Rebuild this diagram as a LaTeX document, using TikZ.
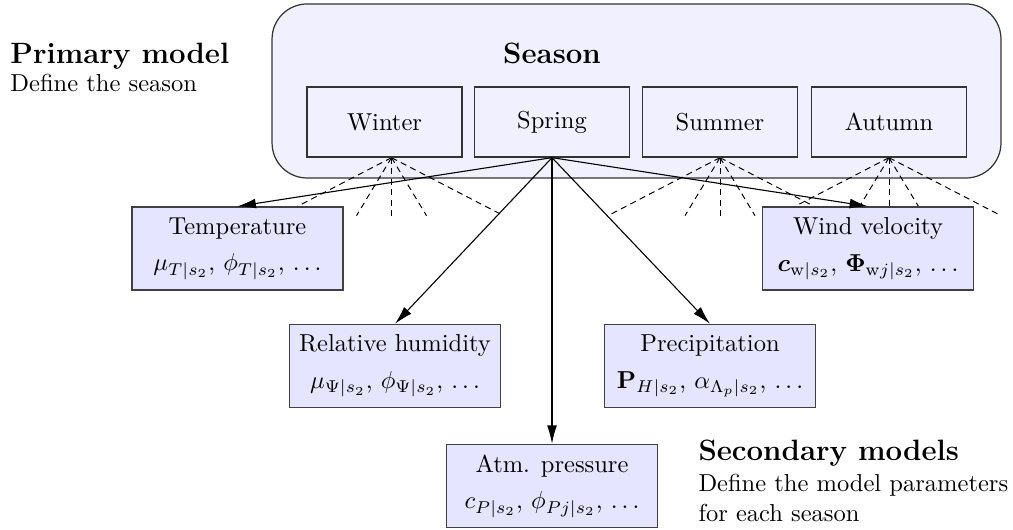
\documentclass[tikz,border=0pt]{standalone}
\usepackage{amsmath,amssymb}
\usetikzlibrary{arrows.meta,calc}
\pgfdeclarelayer{contlayer}
\pgfdeclarelayer{linelayer}
\pgfsetlayers{contlayer,linelayer,main}
\begin{document}
\begin{tikzpicture}[x=0.408pt,y=-0.408pt,
  container/.style={draw=black!80, line width=0.5pt, fill=blue!6, rounded corners=14.3pt,
    minimum width=297.4pt, minimum height=71pt, inner sep=0pt},
  seasonbox/.style={draw=black!80, line width=0.5pt, minimum width=63.2pt, minimum height=28.6pt, inner sep=0pt},
  secbox/.style={draw=black!75, line width=0.5pt, fill=blue!10, minimum width=86.1pt, minimum height=33.9pt,
    align=center, inner sep=1pt},
  arr/.style={line width=0.45pt, -{Latex[length=7.5pt,width=4pt]}},
  fan/.style={line width=0.4pt, dash pattern=on 2.5pt off 1.8pt},
  lbl/.style={anchor=base west, inner sep=0pt}
]
\useasboundingbox (0,0) rectangle (1013,530);

\begin{pgfonlayer}{contlayer}
\node[container] (season) at (636.5,91) {};
\end{pgfonlayer}
\node[font=\large\bfseries] (seasonlbl) at (552,53) {Season};
\node[seasonbox] (winter) at (384.5,122) {Winter};
\node[seasonbox] (spring) at (552,122) {Spring};
\node[seasonbox] (summer) at (720,122) {Summer};
\node[seasonbox] (autumn) at (889,122) {Autumn};

\node[lbl, font=\large\bfseries] (prim) at (10,63.3) {Primary model};
\node[lbl] (primdesc) at (10,91.7) {Define the season};

\node[secbox] (temp) at (237.5,248.5) {Temperature\\[3pt] $\mu_{T|s_2}$, $\phi_{T|s_2}$, $\ldots$};
\node[secbox] (wind) at (868,248.5) {Wind velocity\\[3pt] $\boldsymbol{c}_{\mathrm{w}|s_2}$, $\mathbf{\Phi}_{\mathrm{w}j|s_2}$, $\ldots$};
\node[secbox] (hum) at (395,366) {Relative humidity\\[3pt] $\mu_{\Psi|s_2}$, $\phi_{\Psi|s_2}$, $\ldots$};
\node[secbox] (prec) at (710,366) {Precipitation\\[3pt] $\mathbf{P}_{H|s_2}$, $\alpha_{\Lambda_p|s_2}$, $\ldots$};
\node[secbox] (atm) at (552,486) {Atm. pressure\\[3pt] $c_{P|s_2}$, $\phi_{Pj|s_2}$, $\ldots$};

\node[lbl, font=\large\bfseries] (sec) at (698,461) {Secondary models};
\node[lbl] (secdesc1) at (698,491.7) {Define the model parameters};
\node[lbl] (secdesc2) at (698,521.7) {for each season};

\coordinate (wa) at ($(winter.south)+(7,0)$);
\coordinate (sa) at (summer.south);
\coordinate (aa) at (autumn.south);

\begin{pgfonlayer}{linelayer}
\foreach \ap in {wa,sa,aa}{
  \foreach \dx in {-112,-35,0,35,112}{
    \draw[fan] (\ap) -- ++(\dx,58);
  }
}
\end{pgfonlayer}

\draw[arr] (spring.south) -- (temp.north);
\draw[arr] (spring.south) -- (wind.north);
\draw[arr] (spring.south) -- (hum.north);
\draw[arr] (spring.south) -- (prec.north);
\draw[arr] (spring.south) -- (atm.north);
\end{tikzpicture}
\end{document}
